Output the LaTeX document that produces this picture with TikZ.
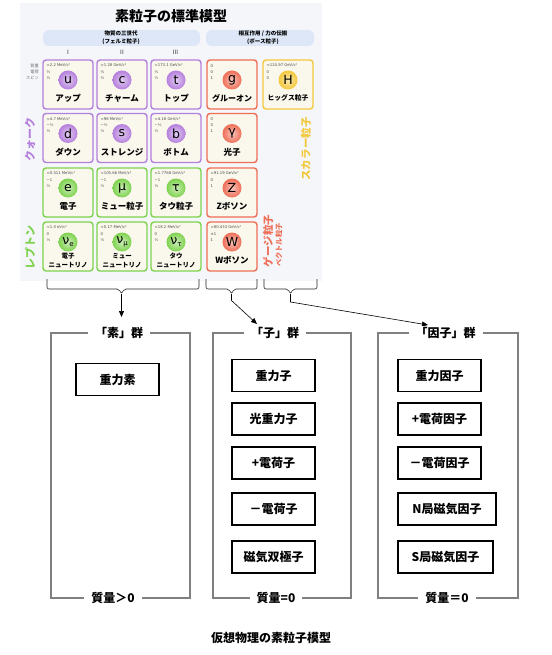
\documentclass[tikz,border=0pt]{standalone}
\usepackage{fontspec}
\setmainfont{Noto Sans CJK JP}
\newfontfamily\smfont{DejaVu Sans}
\usetikzlibrary{arrows.meta}

\definecolor{panelbg}{HTML}{F4F6FA}
\definecolor{pillbg}{HTML}{DDE7F7}
\definecolor{cellbg}{HTML}{FAF8EC}
\definecolor{quark}{HTML}{B57FDC}
\definecolor{lepton}{HTML}{7ED24E}
\definecolor{gauge}{HTML}{EE6E56}
\definecolor{scalar}{HTML}{F3C83A}
\definecolor{framegray}{HTML}{808080}

\tikzset{
  cellbox/.style={rounded corners=3pt, line width=1.4pt, fill=cellbg},
  info/.style={anchor=west, inner sep=0pt, font=\smfont\fontsize{3.8}{4}\selectfont, text=black!70},
  ball/.style={circle, minimum size=19pt, inner sep=0pt, font=\smfont\fontsize{12.5}{12.5}\selectfont},
  cellname/.style={inner sep=0pt, align=center, font=\bfseries\fontsize{8.5}{9}\selectfont},
  headtext/.style={inner sep=0pt, align=center, font=\bfseries\fontsize{5.5}{7.5}\selectfont},
  roman/.style={inner sep=0pt, font=\smfont\fontsize{6}{6}\selectfont, text=black!75},
  rowlabel/.style={anchor=east, inner sep=0pt, font=\fontsize{4.2}{4.2}\selectfont, text=black!55},
  sidelabel/.style={rotate=90, inner sep=0pt, font=\bfseries\fontsize{11}{11}\selectfont},
  bracket/.style={line width=0.6pt, draw=black!85, rounded corners=2pt},
  flow/.style={-{Triangle[length=6pt,width=5pt]}, line width=0.6pt},
  frame/.style={line width=1.5pt, draw=framegray},
  frametitle/.style={fill=white, inner xsep=7pt, inner ysep=1pt, font=\bfseries\fontsize{12}{12}\selectfont},
  member/.style={draw, line width=1.3pt, minimum width=83pt, minimum height=32pt, inner sep=0pt, font=\bfseries\fontsize{12}{12}\selectfont},
}

\newcommand{\nusub}[1]{ν\raisebox{-0.2em}{\fontsize{7}{7}\selectfont #1}}
\newcommand{\nuname}[1]{\fontsize{6.5}{10}\selectfont #1\\\fontsize{6.5}{10}\selectfont ニュートリノ}

% one particle cell: name, x, y, colour, symbol, mass, charge, spin, label
\newcommand{\smcell}[9]{%
  \draw[cellbox, draw=#4] (#2,#3) rectangle ++(50,49);
  \node[info] (#1-m) at (#2+3.5,#3+5.7) {#6};
  \node[info] (#1-q) at (#2+3.5,#3+12) {#7};
  \node[info] (#1-s) at (#2+3.5,#3+18) {#8};
  \node[ball, shade, inner color=#4!40!white, outer color=#4] (#1) at (#2+25,#3+20) {#5};
  \node[cellname] (#1-n) at (#2+25,#3+38.3) {#9};
}

\begin{document}
\begin{tikzpicture}[x=1pt,y=-1pt]
    \useasboundingbox (0,0) rectangle (551,655);

    % standard model chart
    \fill[panelbg] (20,3) rectangle (322,281);
    \node[font=\bfseries\fontsize{14}{14}\selectfont] (smtitle) at (171,16) {素粒子の標準模型};
    \fill[pillbg, rounded corners=6pt] (43,30) rectangle (200,46);
    \fill[pillbg, rounded corners=6pt] (206,30) rectangle (314,46);
    \node[headtext] (fermihd) at (121,37.5) {物質の三世代\\(フェルミ粒子)};
    \node[headtext] (bosehd) at (263,37.5) {相互作用 / 力の伝搬\\(ボース粒子)};
    \node[roman] (gen1) at (68,52) {I};
    \node[roman] (gen2) at (122,52) {II};
    \node[roman] (gen3) at (175.5,52) {III};
    \node[rowlabel] (lblmass) at (39,66) {質量};
    \node[rowlabel] (lblcharge) at (39,72) {電荷};
    \node[rowlabel] (lblspin) at (39,78) {スピン};

    \smcell{u}{43}{60}{quark}{u}{≈2.2 MeV/c²}{⅔}{½}{アップ}
    \smcell{c}{97}{60}{quark}{c}{≈1.28 GeV/c²}{⅔}{½}{チャーム}
    \smcell{t}{151}{60}{quark}{t}{≈173.1 GeV/c²}{⅔}{½}{トップ}
    \smcell{d}{43}{113.5}{quark}{d}{≈4.7 MeV/c²}{−⅓}{½}{ダウン}
    \smcell{s}{97}{113.5}{quark}{s}{≈96 MeV/c²}{−⅓}{½}{ストレンジ}
    \smcell{b}{151}{113.5}{quark}{b}{≈4.18 GeV/c²}{−⅓}{½}{ボトム}
    \smcell{e}{43}{168}{lepton}{e}{≈0.511 MeV/c²}{−1}{½}{電子}
    \smcell{mu}{97}{168}{lepton}{μ}{≈105.66 MeV/c²}{−1}{½}{ミュー粒子}
    \smcell{tau}{151}{168}{lepton}{τ}{≈1.7768 GeV/c²}{−1}{½}{タウ粒子}
    \smcell{nue}{43}{222}{lepton}{\nusub{e}}{<1.0 eV/c²}{0}{½}{\nuname{電子}}
    \smcell{numu}{97}{222}{lepton}{\nusub{μ}}{<0.17 MeV/c²}{0}{½}{\nuname{ミュー}}
    \smcell{nutau}{151}{222}{lepton}{\nusub{τ}}{<18.2 MeV/c²}{0}{½}{\nuname{タウ}}
    \smcell{g}{207}{60}{gauge}{g}{0}{0}{1}{\fontsize{8}{9}\selectfont グルーオン}
    \smcell{gam}{207}{113.5}{gauge}{γ}{0}{0}{1}{光子}
    \smcell{Z}{207}{168}{gauge}{Z}{≈91.19 GeV/c²}{0}{1}{Zボソン}
    \smcell{W}{207}{222}{gauge}{W}{≈80.433 GeV/c²}{±1}{1}{Wボソン}
    \smcell{H}{263}{60}{scalar}{H}{≈124.97 GeV/c²}{0}{0}{\fontsize{6.8}{8}\selectfont ヒッグス粒子}

    \node[sidelabel, text=quark] (quarklbl) at (30,140) {クォーク};
    \node[sidelabel, text=lepton] (leptonlbl) at (30,247) {レプトン};
    \node[sidelabel, text=scalar, font=\bfseries\fontsize{10.5}{10.5}\selectfont] (scalarlbl) at (306,149) {スカラー粒子};
    \node[sidelabel, text=gauge, font=\bfseries\fontsize{10.5}{10.5}\selectfont] (gaugelbl) at (268,241) {ゲージ粒子};
    \node[sidelabel, text=gauge, font=\bfseries\fontsize{7.2}{7.2}\selectfont] (vectorlbl) at (279,245) {ベクトル粒子};

    % brackets under the chart
    \draw[bracket] (47,279) -- (47,289) -- (119,289) -- (121.5,294) -- (124,289) -- (199,289) -- (199,279);
    \draw[bracket] (206,279) -- (206,289) -- (229,289) -- (231.5,294) -- (234,289) -- (257,289) -- (257,279);
    \draw[bracket] (264,279) -- (264,289) -- (288,289) -- (290.5,294) -- (293,289) -- (317,289) -- (317,279);
    \coordinate (tip1) at (121.5,294);
    \coordinate (tip2) at (231.5,294);
    \coordinate (tip3) at (290.5,294);
    \coordinate (end1) at (121.5,317);
    \coordinate (end2) at (257,324);
    \coordinate (end3) at (428,325);
    \draw[flow] (tip1) -- (end1);
    \draw[flow] (tip2) -- ++(0,6.5) -- (end2);
    \draw[flow] (tip3) -- ++(0,8) -- (end3);

    % "so" group
    \draw[frame] (51,333) rectangle (190,598);
    \node[frametitle] (sotitle) at (119,333) {「素」群};
    \node[frametitle] (somass) at (113,598) {質量＞0};
    \node[member] (juryokuso) at (117.5,379.5) {重力素};

    % "shi" group
    \draw[frame] (213,333) rectangle (351,598);
    \node[frametitle] (shititle) at (275,333) {「子」群};
    \node[frametitle] (shimass) at (276,598) {質量=0};
    \node[member] (juryokushi) at (273.5,375.5) {重力子};
    \node[member] (kojuryokushi) at (273.5,419) {光重力子};
    \node[member] (plusdenkashi) at (273.5,463) {+電荷子};
    \node[member] (minusdenkashi) at (273.5,509) {－電荷子};
    \node[member] (jikisokyokushi) at (273.5,557) {磁気双極子};

    % "inshi" group
    \draw[frame] (378,333) rectangle (518,598);
    \node[frametitle] (inshititle) at (445.5,333) {「因子」群};
    \node[frametitle] (inshimass) at (447,598) {質量＝0};
    \node[member] (juryokuinshi) at (439.5,375.5) {重力因子};
    \node[member] (plusdenkainshi) at (439.5,419) {+電荷因子};
    \node[member] (minusdenkainshi) at (439.5,463) {－電荷因子};
    \node[member, minimum width=98pt] (nkyokuinshi) at (447,509) {N局磁気因子};
    \node[member, minimum width=95pt] (skyokuinshi) at (445.5,557) {S局磁気因子};

    \node[font=\bfseries\fontsize{12}{12}\selectfont] (caption) at (271,638) {仮想物理の素粒子模型};
\end{tikzpicture}
\end{document}
